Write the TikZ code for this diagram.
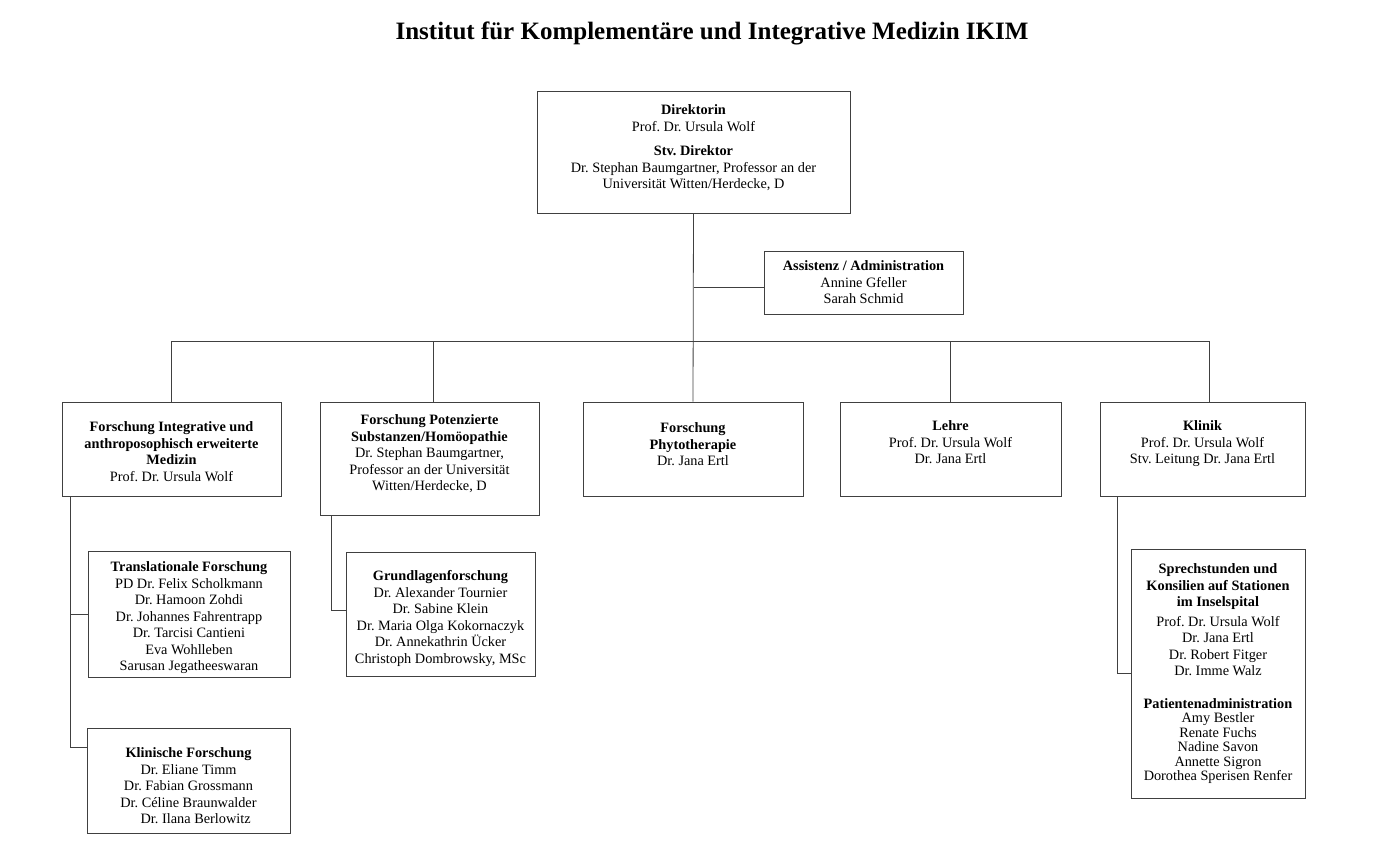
\documentclass[tikz,border=0pt]{standalone}
\usepackage{fontspec}
\setmainfont{Liberation Serif}
\usetikzlibrary{%
  positioning
}
\frenchspacing

\begin{document}
\begin{tikzpicture}[x=1pt, y=-1pt,
    orgbox/.style={draw=black!75, line width=0.9pt, inner sep=0pt},
    txt/.style={inner sep=0pt, align=center, font=\fontsize{14.3}{16.5}\selectfont},
    link/.style={draw=black!75, line width=0.8pt}]
    \useasboundingbox (0,0) rectangle (1374,857);

    \node[font=\fontsize{25}{29}\selectfont\bfseries] (title) at (712,33)
        {Institut für Komplementäre und Integrative Medizin IKIM};

    % Leitung
    \node[orgbox, minimum width=313pt, minimum height=122pt] (dir) at (693.5,152) {};
    \node[txt, below=14pt of dir.north] (dirtxt) {\textbf{Direktorin}\\ Prof. Dr. Ursula Wolf\\[8pt]
        \textbf{Stv. Direktor}\\ Dr. Stephan Baumgartner, Professor an der\\ Universität Witten/Herdecke, D};

    \node[orgbox, minimum width=199pt, minimum height=63pt] (assist) at (863.5,282.5) {};
    \node[txt, below=10pt of assist.north] (assisttxt) {\textbf{Assistenz / Administration}\\ Annine Gfeller\\ Sarah Schmid};

    % Abteilungen
    \node[orgbox, minimum width=219pt, minimum height=94pt] (fim) at (171.5,449) {};
    \node[txt, below=20pt of fim.north] (fimtxt) {\textbf{Forschung Integrative und}\\
        \textbf{anthroposophisch erweiterte}\\ \textbf{Medizin}\\ Prof. Dr. Ursula Wolf};

    \node[orgbox, minimum width=219pt, minimum height=113pt] (fps) at (429.5,458.5) {};
    \node[txt, below=13pt of fps.north] (fpstxt) {\textbf{Forschung Potenzierte}\\
        \textbf{Substanzen/Homöopathie}\\ Dr. Stephan Baumgartner,\\ Professor an der Universität\\ Witten/Herdecke, D};

    \node[orgbox, minimum width=220pt, minimum height=94pt] (phyto) at (693,449) {};
    \node[txt, below=21pt of phyto.north] (phytotxt) {\textbf{Forschung}\\ \textbf{Phytotherapie}\\ Dr. Jana Ertl};

    \node[orgbox, minimum width=221pt, minimum height=94pt] (lehre) at (950.5,449) {};
    \node[txt, below=19pt of lehre.north] (lehretxt) {\textbf{Lehre}\\ Prof. Dr. Ursula Wolf\\ Dr. Jana Ertl};

    \node[orgbox, minimum width=205pt, minimum height=94pt] (klinik) at (1202.5,449) {};
    \node[txt, below=19pt of klinik.north] (klinitxt) {\textbf{Klinik}\\ Prof. Dr. Ursula Wolf\\ Stv. Leitung Dr. Jana Ertl};

    % Gruppen
    \node[orgbox, minimum width=202pt, minimum height=126pt] (trans) at (189,614) {};
    \node[txt, below=11pt of trans.north] (transtxt) {\textbf{Translationale Forschung}\\ PD Dr. Felix Scholkmann\\
        Dr. Hamoon Zohdi\\ Dr. Johannes Fahrentrapp\\ Dr. Tarcisi Cantieni\\ Eva Wohlleben\\ Sarusan Jegatheeswaran};

    \node[orgbox, minimum width=203pt, minimum height=105pt] (klin) at (188.5,780.5) {};
    \node[txt, below=20pt of klin.north] (klintxt) {\textbf{Klinische Forschung}\\ Dr. Eliane Timm\\
        Dr. Fabian Grossmann\\ Dr. Céline Braunwalder\\ \hspace*{1em}Dr. Ilana Berlowitz};

    \node[orgbox, minimum width=189pt, minimum height=124pt] (grund) at (440.5,614) {};
    \node[txt, below=19pt of grund.north] (grundtxt) {\textbf{Grundlagenforschung}\\ Dr. Alexander Tournier\\
        Dr. Sabine Klein\\ Dr. Maria Olga Kokornaczyk\\ Dr. Annekathrin Ücker\\ Christoph Dombrowsky, MSc};

    \node[orgbox, minimum width=174pt, minimum height=249pt] (sprech) at (1218,673.5) {};
    \node[txt, below=15pt of sprech.north] (sprechtxt) {\textbf{Sprechstunden und}\\
        \textbf{Konsilien auf Stationen}\\ \textbf{im Inselspital}\\[3pt] Prof. Dr. Ursula Wolf\\ Dr. Jana Ertl\\
        Dr. Robert Fitger\\ Dr. Imme Walz\\[16pt] \textbf{Patientenadministration}\\[-2pt] Amy Bestler\\[-2pt]
        Renate Fuchs\\[-2pt] Nadine Savon\\[-2pt] Annette Sigron\\[-2pt] Dorothea Sperisen Renfer};

    % Verbindungen
    \coordinate (bus) at (0,341);
    \coordinate (assistin) at ([yshift=-4.5pt]assist.west);
    \draw[link] (dir.south) -- (phyto.north);
    \draw[link] (dir.south |- assistin) -- (assistin);
    \draw[link] (fim.north |- bus) -- ([xshift=6.5pt]klinik.north |- bus);
    \draw[link] (fim.north) -- (fim.north |- bus);
    \draw[link] ([xshift=3.5pt]fps.north) -- ([xshift=3.5pt]fps.north |- bus);
    \draw[link] (lehre.north) -- (lehre.north |- bus);
    \draw[link] ([xshift=6.5pt]klinik.north) -- ([xshift=6.5pt]klinik.north |- bus);

    \draw[link] ([xshift=9pt]fim.south west) |- ([yshift=-20pt]klin.north west);
    \draw[link] ([xshift=9pt]fim.south west |- trans.west) -- (trans.west);
    \draw[link] ([xshift=12pt]fps.south west) |- ([yshift=4pt]grund.west);
    \draw[link] ([xshift=18pt]klinik.south west) |- (sprech.west);

\end{tikzpicture}
\end{document}
